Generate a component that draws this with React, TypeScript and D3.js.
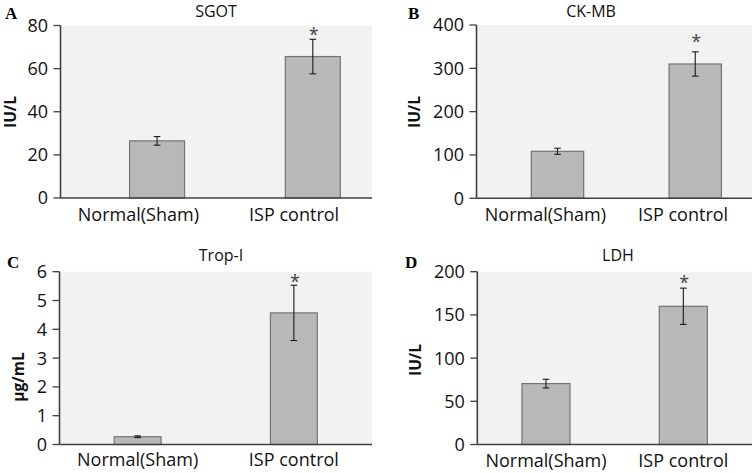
import React from "react";
import * as d3 from "d3";

// ---- data ----
const categories = ["Normal(Sham)", "ISP control"];

const sgotMean = [26.5, 65.6];
const sgotErr = [2.0, 8.0];
const sgotTicks = [0, 20, 40, 60, 80];

const ckmbMean = [108.5, 310];
const ckmbErr = [7, 28];
const ckmbTicks = [0, 100, 200, 300, 400];

const tropMean = [0.27, 4.57];
const tropErr = [0.03, 0.96];
const tropTicks = [0, 1, 2, 3, 4, 5, 6];

const ldhMean = [70.5, 160];
const ldhErr = [5, 21];
const ldhTicks = [0, 50, 100, 150, 200];

const significant = [false, true];

// ---- layout ----
const panels = [
  {
    letter: "A", title: "SGOT", unit: "IU/L", mean: sgotMean, err: sgotErr, ticks: sgotTicks,
    l: 60.5, r: 372, t: 25.5, b: 198,
    titleX: 216, titleY: 16.5, letterX: 5, letterY: 19, unitX: 16, unitY: 112,
    barFrac: 0.353, shift: 0.12, labelDy: 23, starGap: 8,
  },
  {
    letter: "B", title: "CK-MB", unit: "IU/L", mean: ckmbMean, err: ckmbErr, ticks: ckmbTicks,
    l: 476.5, r: 752, t: 25, b: 198.3,
    titleX: 591, titleY: 16.5, letterX: 408, letterY: 19.3, unitX: 420, unitY: 112,
    barFrac: 0.38, shift: 0.088, labelDy: 23, starGap: 14,
  },
  {
    letter: "C", title: "Trop-I", unit: "µg/mL", mean: tropMean, err: tropErr, ticks: tropTicks,
    l: 59.5, r: 372, t: 271.7, b: 444.5,
    titleX: 221, titleY: 260.5, letterX: 7, letterY: 268, unitX: 24, unitY: 377,
    barFrac: 0.30, shift: 0, labelDy: 21.5, starGap: 7,
  },
  {
    letter: "D", title: "LDH", unit: "IU/L", mean: ldhMean, err: ldhErr, ticks: ldhTicks,
    l: 477.3, r: 752, t: 271.7, b: 444.5,
    titleX: 618, titleY: 261, letterX: 405, letterY: 268, unitX: 421, unitY: 360,
    barFrac: 0.35, shift: 0, labelDy: 22.5, starGap: 9.5,
  },
];

const FONT = "'Open Sans', 'Noto Sans', sans-serif";

function Panel({ p }: { p: any }) {
  const y = d3.scaleLinear().domain([0, d3.max(p.ticks as number[]) as number]).range([p.b, p.t]);
  const x = d3
    .scaleBand<string>()
    .domain(categories)
    .range([p.l, p.r])
    .paddingInner(1 - p.barFrac)
    .paddingOuter((1 - p.barFrac) / 2);
  const bw = x.bandwidth();
  const step = x.step();
  const capW = 3.3;

  return (
    <g>
      <rect x={p.l} y={p.t} width={p.r - p.l} height={p.b - p.t} fill="#f2f2f2" />
      {/* bars */}
      {categories.map((c, i) => {
        const bx = (x(c) as number) + p.shift * step;
        const cx = bx + bw / 2;
        const m = p.mean[i];
        const e = p.err[i];
        const yTop = y(m + e);
        const yBot = y(m - e);
        return (
          <g key={c}>
            <rect x={bx} y={y(m)} width={bw} height={p.b - y(m)} fill="#b8b8b8" stroke="#747474" strokeWidth={1.2} />
            <line x1={cx} x2={cx} y1={yTop} y2={yBot} stroke="#1a1a1a" strokeWidth={1.1} />
            <line x1={cx - capW} x2={cx + capW} y1={yTop} y2={yTop} stroke="#1a1a1a" strokeWidth={1.1} />
            <line x1={cx - capW} x2={cx + capW} y1={yBot} y2={yBot} stroke="#1a1a1a" strokeWidth={1.1} />
            {significant[i] && (
              <text x={cx + 1} y={yTop - p.starGap + 10} textAnchor="middle" fontFamily={FONT} fontSize={18} fill="#444">
                *
              </text>
            )}
          </g>
        );
      })}
      {/* y axis */}
      <line x1={p.l} x2={p.l} y1={p.t} y2={p.b} stroke="#404040" strokeWidth={1.6} />
      {p.ticks.map((t: number) => (
        <g key={t}>
          <line x1={p.l - 7} x2={p.l} y1={y(t)} y2={y(t)} stroke="#404040" strokeWidth={1.3} />
          <text x={p.l - 12.5} y={y(t)} dy="0.36em" textAnchor="end" fontFamily={FONT} fontSize={18} fill="#111">
            {t}
          </text>
        </g>
      ))}
      {/* x axis */}
      <line x1={p.l} x2={p.r} y1={p.b} y2={p.b} stroke="#404040" strokeWidth={1.6} />
      {categories.map((c) => (
        <text
          key={c}
          x={(x(c) as number) + bw / 2}
          y={p.b + p.labelDy}
          textAnchor="middle"
          fontFamily={FONT}
          fontSize={18}
          fill="#111"
        >
          {c}
        </text>
      ))}
      {/* title */}
      <text x={p.titleX} y={p.titleY} textAnchor="middle" fontFamily={FONT} fontSize={16} fill="#111">
        {p.title}
      </text>
      {/* panel letter */}
      <text x={p.letterX} y={p.letterY} fontFamily="'Liberation Serif', 'Times New Roman', serif" fontWeight="bold" fontSize={17} fill="#000">
        {p.letter}
      </text>
      {/* y label */}
      <text
        transform={`translate(${p.unitX},${p.unitY}) rotate(-90)`}
        textAnchor="middle"
        fontFamily={FONT}
        fontWeight="bold"
        fontSize={15.5}
        fill="#111"
      >
        {p.unit}
      </text>
    </g>
  );
}

export default function App() {
  return (
    <svg
      width={756}
      height={473}
      viewBox="0 0 756 473"
      style={{ position: "absolute", left: 0, top: 0, background: "#fff" }}
    >
      <rect x={0} y={0} width={756} height={473} fill="#fff" />
      {panels.map((p) => (
        <Panel key={p.letter} p={p} />
      ))}
    </svg>
  );
}
